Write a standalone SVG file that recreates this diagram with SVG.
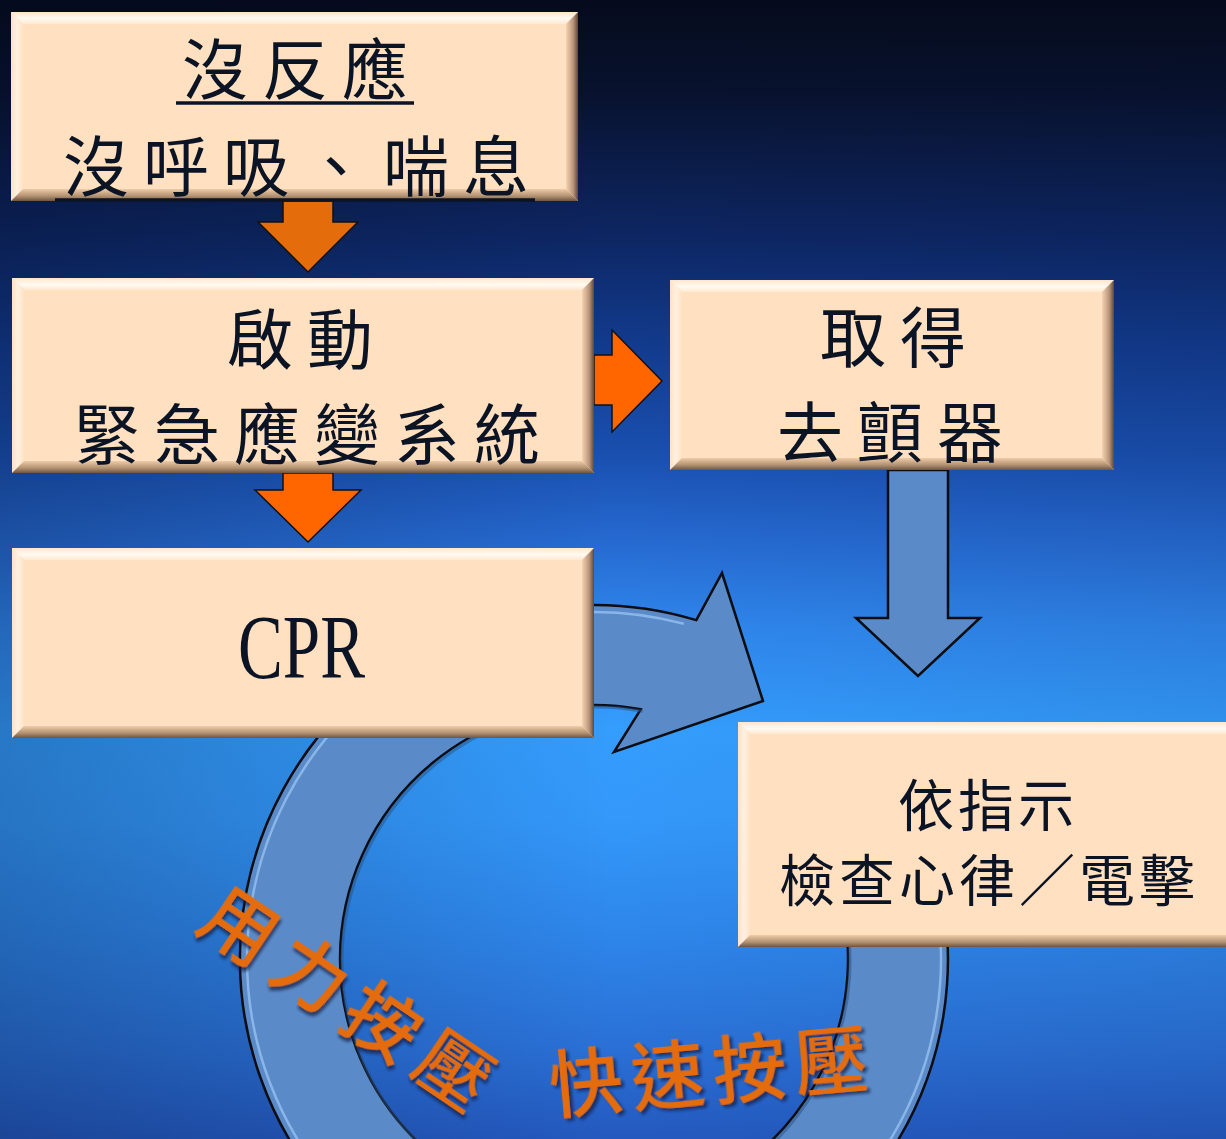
<svg xmlns="http://www.w3.org/2000/svg" width="1226" height="1139" viewBox="0 0 1226 1139">
<defs>
<linearGradient id="bg" x1="0" y1="0" x2="0" y2="1">
<stop offset="0" stop-color="#050b1c"/>
<stop offset="0.08" stop-color="#08122e"/>
<stop offset="0.2" stop-color="#0d2560"/>
<stop offset="0.3" stop-color="#123a8c"/>
<stop offset="0.4" stop-color="#1a50b0"/>
<stop offset="0.47" stop-color="#2568cf"/>
<stop offset="0.55" stop-color="#2f86ec"/>
<stop offset="0.64" stop-color="#349dfd"/>
<stop offset="0.72" stop-color="#3398fa"/>
<stop offset="0.82" stop-color="#2e86ea"/>
<stop offset="0.92" stop-color="#2a70d6"/>
<stop offset="1" stop-color="#2459bf"/>
</linearGradient>
<linearGradient id="side" x1="0" y1="0" x2="1" y2="0">
<stop offset="0" stop-color="#000a20" stop-opacity="0.25"/>
<stop offset="0.5" stop-color="#000a20" stop-opacity="0"/>
<stop offset="1" stop-color="#000a20" stop-opacity="0.08"/>
</linearGradient>
<linearGradient id="bevT" x1="0" y1="0" x2="0" y2="1">
<stop offset="0" stop-color="#ffe6cc"/>
<stop offset="0.55" stop-color="#fffaf2"/>
<stop offset="1" stop-color="#ffe8d0"/>
</linearGradient>
<linearGradient id="bevL" x1="0" y1="0" x2="1" y2="0">
<stop offset="0" stop-color="#ffe2c4"/>
<stop offset="0.5" stop-color="#fff0e0"/>
<stop offset="1" stop-color="#ffe2c4"/>
</linearGradient>
<linearGradient id="bevR" x1="0" y1="0" x2="1" y2="0">
<stop offset="0" stop-color="#f5d2b0"/>
<stop offset="0.6" stop-color="#b8957a"/>
<stop offset="1" stop-color="#5e4636"/>
</linearGradient>
<linearGradient id="bevB" x1="0" y1="0" x2="0" y2="1">
<stop offset="0" stop-color="#f0cca8"/>
<stop offset="0.6" stop-color="#b09070"/>
<stop offset="1" stop-color="#6e5443"/>
</linearGradient>
<filter id="sh" x="-10%" y="-10%" width="130%" height="130%">
<feDropShadow dx="3" dy="3" stdDeviation="1.6" flood-color="#0a1a40" flood-opacity="0.7"/>
</filter>
<style>
.face{fill:#ffe0c0}
.bt{fill:url(#bevT)}
.bl{fill:url(#bevL)}
.br{fill:url(#bevR)}
.bb{fill:url(#bevB)}
.t{font-family:"Noto Sans CJK TC","Noto Sans CJK SC",sans-serif;fill:#0b1424;text-anchor:middle;dominant-baseline:central}
.big{font-size:66px;letter-spacing:14px}
.mid{font-size:56px;letter-spacing:4px}
.ul{stroke:#0b1424;stroke-width:3.5}
.orA{fill:#e46c0a;stroke:#111;stroke-width:1.5}
.orB{fill:#ff6600;stroke:#111;stroke-width:1.5}
.blue{fill:#5a8bc8;stroke:#0d0d14;stroke-width:2.5;stroke-linejoin:miter}
.slog{font-family:"Noto Sans CJK TC","Noto Sans CJK SC",sans-serif;font-size:74px;font-weight:500;fill:#e46c0a;text-anchor:middle;dominant-baseline:central;filter:url(#sh)}
</style>
</defs>
<rect width="1226" height="1139" fill="url(#bg)"/>
<rect width="1226" height="1139" fill="url(#side)"/>

<g id="connectors">
<path id="cycle" class="blue" d="M696.3,620.1 L722,573 L763,701 L614,752 L640.7,709.3 A254,254 0 1 0 832.7,872.1 L926.6,837.9 A354,354 0 1 1 696.3,620.1 Z"/>
<path d="M920.1,840.3 A347,347 0 1 1 683.8,623.8" fill="none" stroke="#a9d2ff" stroke-width="2.5" stroke-opacity="0.6"/>
<path d="M640.7,709.3 A254,254 0 1 0 832.7,872.1" fill="none" stroke="#2a4f80" stroke-width="3" stroke-opacity="0.5" transform="translate(2,2)"/>
<polygon id="a1" class="orA" points="283,201 333,201 333,222 358,222 308,272 258,222 283,222"/>
<polygon id="a2" class="orB" points="283,473 333,473 333,490 361,490 308,542 255,490 283,490"/>
<polygon id="a3" class="orB" points="594,355 612,355 612,330 662,381 612,432 612,405 594,405"/>
<polygon id="a4" class="blue" points="888,470 948,470 948,618 980,618 918,676 856,618 888,618"/>
</g>

<g id="n1">
<rect class="face" x="11" y="12" width="567" height="189"/>
<polygon class="bt" points="11,12 578,12 566,24 23,24"/>
<polygon class="bl" points="11,12 23,24 23,189 11,201"/>
<polygon class="br" points="578,12 578,201 566,189 566,24"/>
<polygon class="bb" points="11,201 23,189 566,189 578,201"/>
<text class="t big" x="302" y="65">沒反應</text>
<line class="ul" x1="176" y1="103" x2="414" y2="103"/>
<text class="t big" x="303" y="162">沒呼吸、喘息</text>
<line class="ul" x1="55" y1="200" x2="535" y2="200"/>
</g>

<g id="n2">
<rect class="face" x="12" y="278" width="582" height="195"/>
<polygon class="bt" points="12,278 594,278 582,290 24,290"/>
<polygon class="bl" points="12,278 24,290 24,461 12,473"/>
<polygon class="br" points="594,278 594,473 582,461 582,290"/>
<polygon class="bb" points="12,473 24,461 582,461 594,473"/>
<text class="t big" x="307" y="335">啟動</text>
<text class="t big" x="314" y="430">緊急應變系統</text>
</g>

<g id="n3">
<rect class="face" x="670" y="280" width="444" height="190"/>
<polygon class="bt" points="670,280 1114,280 1102,292 682,292"/>
<polygon class="bl" points="670,280 682,292 682,458 670,470"/>
<polygon class="br" points="1114,280 1114,470 1102,458 1102,292"/>
<polygon class="bb" points="670,470 682,458 1102,458 1114,470"/>
<text class="t big" x="900" y="333">取得</text>
<text class="t big" x="897" y="428">去顫器</text>
</g>

<g id="n4">
<rect class="face" x="12" y="548" width="582" height="190"/>
<polygon class="bt" points="12,548 594,548 582,560 24,560"/>
<polygon class="bl" points="12,548 24,560 24,726 12,738"/>
<polygon class="br" points="594,548 594,738 582,726 582,560"/>
<polygon class="bb" points="12,738 24,726 582,726 594,738"/>
<text x="238" y="678" font-family="Liberation Serif, serif" font-size="92" fill="#0b1424" textLength="127" lengthAdjust="spacingAndGlyphs">CPR</text>
</g>

<g id="n5">
<rect class="face" x="738" y="722" width="500" height="225"/>
<polygon class="bt" points="738,722 1238,722 1226,734 750,734"/>
<polygon class="bl" points="738,722 750,734 750,935 738,947"/>
<polygon class="bb" points="738,947 750,935 1226,935 1238,947"/>
<text class="t mid" x="988" y="801">依指示</text>
<text class="t mid" x="989" y="876">檢查心律／電擊</text>
</g>

<g id="slogan">
<text class="slog" transform="translate(350,993) rotate(34)" x="6" y="0" letter-spacing="12">用力按壓</text>
<text class="slog" transform="translate(708,1066) rotate(-5)" x="4" y="0" letter-spacing="8">快速按壓</text>
</g>
</svg>
